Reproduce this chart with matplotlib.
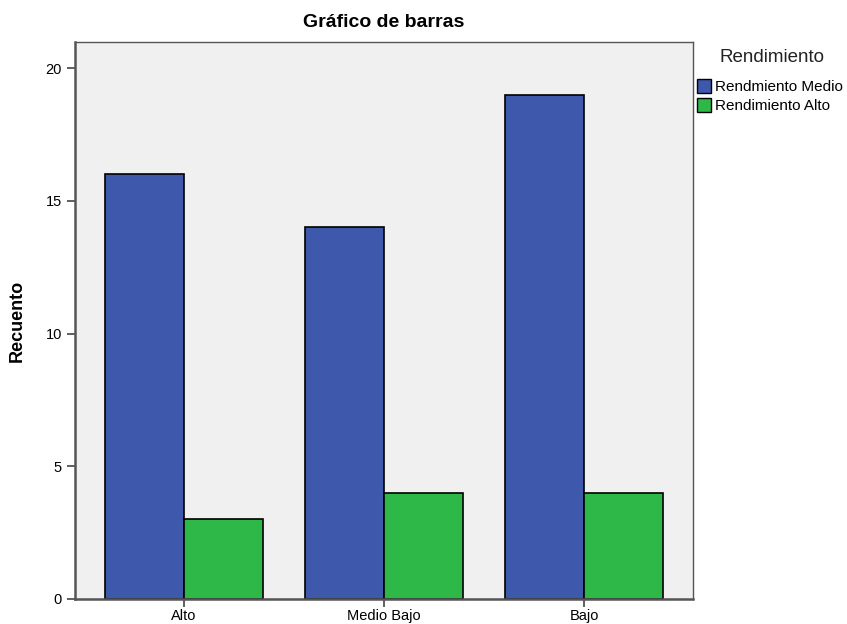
import numpy as np
import matplotlib.pyplot as plt
from matplotlib.patches import Patch

plt.rcParams['font.family'] = ['Liberation Sans', 'DejaVu Sans']

categories = ['Alto', 'Medio Bajo', 'Bajo']
series_names = ['Rendmiento Medio', 'Rendimiento Alto']
medio = [16, 14, 19]
alto = [3, 4, 4]
colors = ['#3E58AC', '#2EB848']

fig = plt.figure(figsize=(8.47, 6.24), dpi=100)
ax = fig.add_axes([75 / 847, 1 - 599 / 624, 618 / 847, 557 / 624])
ax.set_facecolor('#F0F0F0')

x = np.arange(len(categories))
w = 0.395
ax.bar(x - w / 2, medio, w, color=colors[0], edgecolor='black', linewidth=1.2, zorder=2)
ax.bar(x + w / 2, alto, w, color=colors[1], edgecolor='black', linewidth=1.2, zorder=2)

ax.set_xlim(-0.545, 2.545)
ax.set_ylim(0, 20.98)
ax.set_xticks(x)
ax.set_xticklabels(categories, fontsize=10.5)
ax.set_yticks([0, 5, 10, 15, 20])
ax.tick_params(axis='y', labelsize=10.5, length=6, width=1.2, color='#444444')
ax.tick_params(axis='x', length=6, width=1.2, color='#444444', pad=1.5)
for s in ax.spines.values():
    s.set_color('#555555')
    s.set_linewidth(1.0)
ax.spines['left'].set_linewidth(1.8)
ax.spines['bottom'].set_linewidth(1.8)

ax.set_ylabel('Recuento', fontsize=13, fontweight='bold', labelpad=14)
ax.set_title('Gráfico de barras', fontsize=14, fontweight='bold', pad=11)

handles = [Patch(facecolor=c, edgecolor='black') for c in colors]
fig.text(719 / 847, 1 - 58 / 624, 'Rendimiento', fontsize=13.5, va='center', ha='left', color='#222222')
fig.legend(handles, series_names, loc='upper left', bbox_to_anchor=(694 / 847, 1 - 76 / 624),
           frameon=False, fontsize=11, handlelength=0.9, handleheight=1.0,
           handletextpad=0.3, labelspacing=0.25, borderpad=0.2, borderaxespad=0)

fig.savefig('out.png', dpi=100)
